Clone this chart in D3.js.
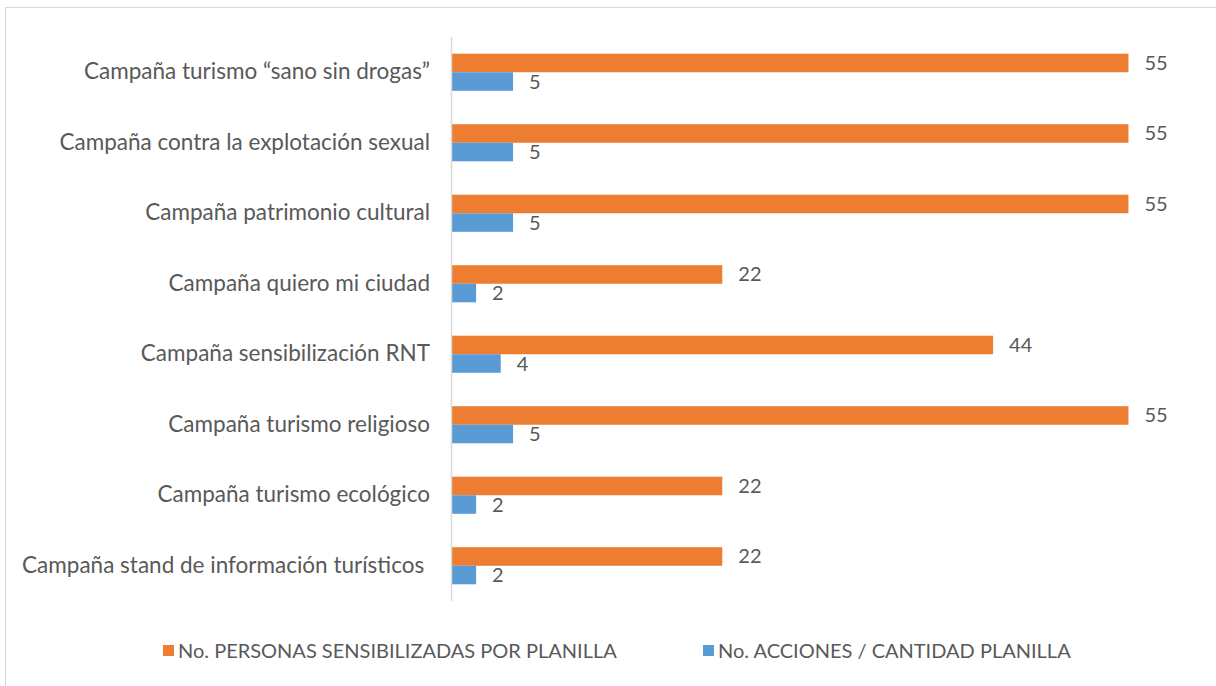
<!DOCTYPE html>
<html>
<head>
<meta charset="utf-8">
<script src="https://cdn.jsdelivr.net/npm/d3@7"></script>
<style>
  body { margin: 0; background: #fff; }
  text { font-family: Lato, "Open Sans", sans-serif; fill: #595959; }
</style>
</head>
<body>
<div id="chart"></div>
<script>
// Categories, top to bottom
var categories = [
  "Campaña turismo “sano sin drogas”",
  "Campaña contra la explotación sexual",
  "Campaña patrimonio cultural",
  "Campaña quiero mi ciudad",
  "Campaña sensibilización RNT",
  "Campaña turismo religioso",
  "Campaña turismo ecológico",
  "Campaña stand de información turísticos "
];

var seriesNames = [
  "No. PERSONAS SENSIBILIZADAS POR PLANILLA",
  "No. ACCIONES / CANTIDAD PLANILLA"
];

var personas = [55, 55, 55, 22, 44, 55, 22, 22];
var acciones = [5, 5, 5, 2, 4, 5, 2, 2];

var colors = ["#ed7d31", "#5b9bd5"];

var width = 1216, height = 686;

var svg = d3.select("#chart").append("svg")
    .attr("width", width)
    .attr("height", height);

// Chart border
svg.append("rect")
    .attr("x", 5.5)
    .attr("y", 7.5)
    .attr("width", width + 10)
    .attr("height", height + 10)
    .style("fill", "none")
    .style("stroke", "#d9d9d9")
    .style("stroke-width", 1);

var xScale = d3.scaleLinear()
    .domain([0, 60])
    .range([451.5, 1190]);

var yScale = d3.scaleBand()
    .domain(d3.range(categories.length))
    .range([37, 601]);

var inner = d3.scaleBand()
    .domain([0, 1])
    .range([0, yScale.bandwidth()])
    .paddingInner(0)
    .paddingOuter(0.9);

var data = [personas, acciones];

var g = svg.append("g");

// Bars
data.forEach(function(values, s) {
  var grp = g.append("g").attr("class", "series" + s);

  grp.selectAll("rect")
      .data(values)
    .enter().append("rect")
      .attr("x", xScale(0))
      .attr("y", function(d, i) { return yScale(i) + inner(s); })
      .attr("width", function(d) { return xScale(d) - xScale(0); })
      .attr("height", inner.bandwidth())
      .style("fill", colors[s]);

  grp.selectAll("text")
      .data(values)
    .enter().append("text")
      .attr("x", function(d) { return xScale(d) + 16; })
      .attr("y", function(d, i) { return yScale(i) + inner(s) + inner.bandwidth() / 2; })
      .attr("dy", "0.35em")
      .style("font-size", "20px")
      .text(function(d) { return d; });
});

// Category axis line
g.append("line")
    .attr("x1", xScale(0))
    .attr("x2", xScale(0))
    .attr("y1", 37)
    .attr("y2", 601)
    .style("stroke", "#d9d9d9")
    .style("stroke-width", 1.5);

// Category labels
g.selectAll(".cat")
    .data(categories)
  .enter().append("text")
    .attr("class", "cat")
    .attr("x", 430)
    .attr("y", function(d, i) { return yScale(i) + yScale.bandwidth() / 2 - 1; })
    .attr("dy", "0.35em")
    .attr("text-anchor", "end")
    .style("font-size", "22.5px")
    .style("white-space", "pre")
    .text(function(d) { return d; });

// Legend
var legendX = [163, 703];
var legend = svg.append("g").attr("class", "legend");

seriesNames.forEach(function(name, s) {
  legend.append("rect")
      .attr("x", legendX[s])
      .attr("y", 645)
      .attr("width", 11)
      .attr("height", 11)
      .style("fill", colors[s]);
  legend.append("text")
      .attr("x", legendX[s] + 15)
      .attr("y", 651)
      .attr("dy", "0.35em")
      .style("font-size", "20px")
      .text(name);
});
</script>
</body>
</html>
